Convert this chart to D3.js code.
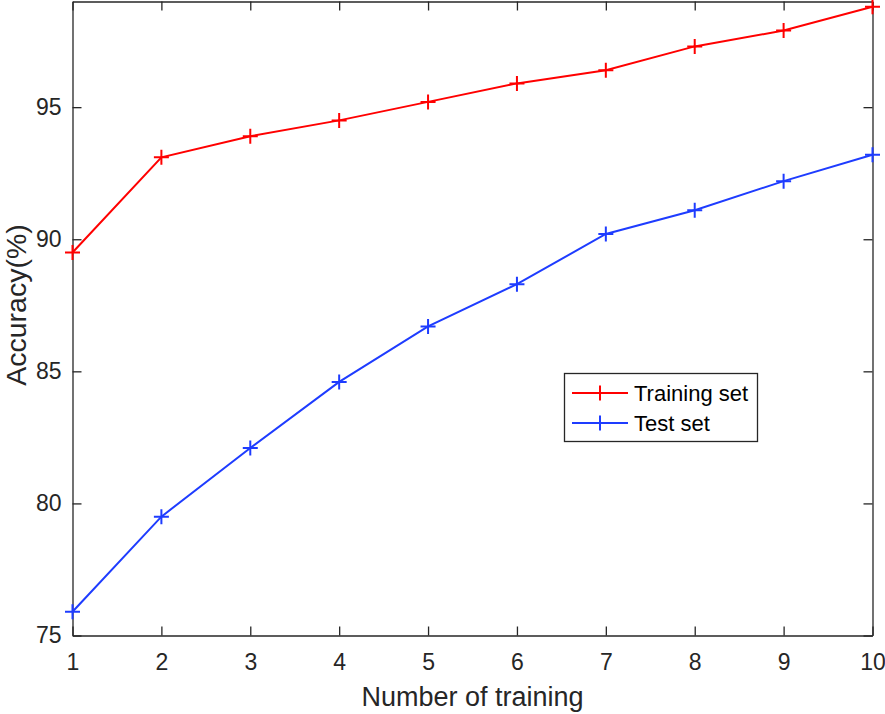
<!DOCTYPE html>
<html><head><meta charset="utf-8">
<script src="https://cdn.jsdelivr.net/npm/d3@7"></script>
<style>body{margin:0;background:#fff;} svg{display:block;font-family:Arial,"Liberation Sans",sans-serif;}</style>
</head><body>
<script>
const xValues = [1,2,3,4,5,6,7,8,9,10];
const trainingSet = [89.5,93.1,93.9,94.5,95.2,95.9,96.4,97.3,97.9,98.8];
const testSet = [75.9,79.5,82.1,84.6,86.7,88.3,90.2,91.1,92.2,93.2];
const xTicks = [1,2,3,4,5,6,7,8,9,10];
const yTicks = [75,80,85,90,95];
const seriesNames = ["Training set","Test set"];
const seriesColors = ["#ff0000","#1e3cff"];

const W=885,H=714;
const m={l:72.5,t:1.5,r:885-872.5,b:714-635.5};
const svg=d3.select("body").append("svg").attr("width",W).attr("height",H);
const x=d3.scaleLinear().domain([1,10]).range([m.l,W-m.r]);
const y=d3.scaleLinear().domain([75,99]).range([H-m.b,m.t]);
const axisColor="#262626";

const gx=svg.append("g").attr("transform",`translate(0,${H-m.b})`)
 .call(d3.axisBottom(x).tickValues(xTicks).tickSizeInner(-9).tickSizeOuter(0).tickPadding(18.5));
const gy=svg.append("g").attr("transform",`translate(${m.l},0)`)
 .call(d3.axisLeft(y).tickValues(yTicks).tickSizeInner(-9).tickSizeOuter(0).tickPadding(11));
const gxt=svg.append("g").attr("transform",`translate(0,${m.t})`)
 .call(d3.axisTop(x).tickValues(xTicks).tickSizeInner(-9).tickSizeOuter(0).tickFormat(""));
const gyr=svg.append("g").attr("transform",`translate(${W-m.r},0)`)
 .call(d3.axisRight(y).tickValues(yTicks).tickSizeInner(-9).tickSizeOuter(0).tickFormat(""));
[gx,gy,gxt,gyr].forEach(g=>{
  g.select(".domain").attr("stroke",axisColor).attr("stroke-width",1.3);
  g.selectAll(".tick line").attr("stroke",axisColor).attr("stroke-width",1.3);
  g.selectAll(".tick text").attr("fill","#262626").attr("font-size",23).attr("font-family","Arial,'Liberation Sans',sans-serif");
});
gx.selectAll(".tick text").attr("dy","0.71em");

svg.append("text").attr("x",(m.l+W-m.r)/2).attr("y",706).attr("text-anchor","middle")
 .attr("font-size",27).attr("fill","#262626").text("Number of training");
svg.append("text").attr("transform",`translate(26,305) rotate(-90)`).attr("text-anchor","middle")
 .attr("font-size",28.5).attr("fill","#262626").text("Accuracy(%)");

const line=d3.line().x((d,i)=>x(xValues[i])).y(d=>y(d));
const data=[trainingSet,testSet];
const ms=7.5;
data.forEach((s,k)=>{
  svg.append("path").datum(s).attr("d",line).attr("fill","none").attr("stroke",seriesColors[k]).attr("stroke-width",2);
  const g=svg.append("g");
  s.forEach((v,i)=>{
    const cx=x(xValues[i]),cy=y(v);
    g.append("path").attr("d",`M${cx-ms},${cy}H${cx+ms}M${cx},${cy-ms}V${cy+ms}`)
     .attr("stroke",seriesColors[k]).attr("stroke-width",2).attr("fill","none");
  });
});

const lg=svg.append("g");
lg.append("rect").attr("x",564.5).attr("y",373.5).attr("width",193).attr("height",68)
 .attr("fill","#fff").attr("stroke",axisColor).attr("stroke-width",1.3);
seriesNames.forEach((n,k)=>{
  const yy=393+k*30;
  lg.append("line").attr("x1",572).attr("x2",628).attr("y1",yy).attr("y2",yy).attr("stroke",seriesColors[k]).attr("stroke-width",2);
  lg.append("path").attr("d",`M${600-ms},${yy}H${600+ms}M600,${yy-ms}V${yy+ms}`).attr("stroke",seriesColors[k]).attr("stroke-width",2);
  lg.append("text").attr("x",634).attr("y",yy).attr("dy","0.35em").attr("font-size",22).attr("fill","#000").text(n);
});
</script>
</body></html>
